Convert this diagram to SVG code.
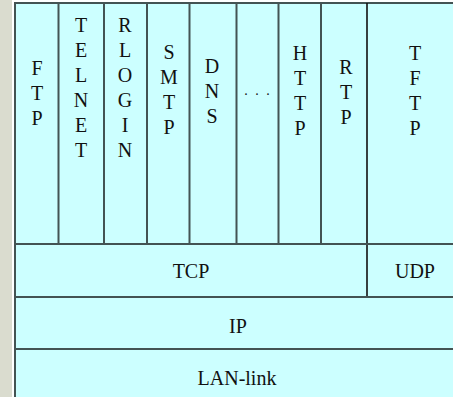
<svg xmlns="http://www.w3.org/2000/svg" width="453" height="397" viewBox="0 0 453 397">
<style>
.bg{fill:#ccffff}
.ln{stroke:#435353;stroke-width:2;fill:none}
.dk{stroke:#111;stroke-width:1.6;fill:none}
text{font-family:"Liberation Serif","Times New Roman",serif;font-size:20px;fill:#111;text-anchor:middle}
</style>
<rect x="0" y="0" width="453" height="397" fill="#dadccf"/>
<rect x="12" y="0" width="441" height="397" fill="#ffffff"/>
<rect x="14" y="2" width="439" height="395" class="bg"/>
<g id="connectors">
<line class="ln" x1="15" y1="2" x2="15" y2="397"/>
<line class="ln" x1="14" y1="3" x2="453" y2="3"/>
<line class="ln" x1="58.5" y1="3" x2="58.5" y2="244"/>
<line class="ln" x1="104" y1="3" x2="104" y2="244"/>
<line class="ln" x1="147" y1="3" x2="147" y2="244"/>
<line class="ln" x1="189.5" y1="3" x2="189.5" y2="244"/>
<line class="ln" x1="236.5" y1="3" x2="236.5" y2="244"/>
<line class="ln" x1="278.5" y1="3" x2="278.5" y2="244"/>
<line class="ln" x1="321" y1="3" x2="321" y2="244"/>
<line class="dk" x1="367" y1="3" x2="367" y2="297"/>
<line class="ln" x1="15" y1="244" x2="453" y2="244"/>
<line class="ln" x1="15" y1="297" x2="453" y2="297"/>
<line class="ln" x1="15" y1="349" x2="453" y2="349"/>
</g>
<g id="ftp"><text x="37" y="75">F</text><text x="37" y="100">T</text><text x="37" y="125">P</text></g>
<g id="telnet"><text x="81" y="32">T</text><text x="81" y="57">E</text><text x="81" y="82">L</text><text x="81" y="107">N</text><text x="81" y="132">E</text><text x="81" y="157">T</text></g>
<g id="rlogin"><text x="125" y="32">R</text><text x="125" y="57">L</text><text x="125" y="82">O</text><text x="125" y="107">G</text><text x="125" y="132">I</text><text x="125" y="157">N</text></g>
<g id="smtp"><text x="169" y="59">S</text><text x="169" y="84">M</text><text x="169" y="109">T</text><text x="169" y="134">P</text></g>
<g id="dns"><text x="212" y="73">D</text><text x="212" y="98">N</text><text x="212" y="123">S</text></g>
<g id="more"><text x="258" y="95" style="font-size:14px;letter-spacing:2px">. . .</text></g>
<g id="http"><text x="300" y="60">H</text><text x="300" y="85">T</text><text x="300" y="110">T</text><text x="300" y="135">P</text></g>
<g id="rtp"><text x="346" y="74">R</text><text x="346" y="99">T</text><text x="346" y="124">P</text></g>
<g id="tftp"><text x="415" y="60">T</text><text x="415" y="85">F</text><text x="415" y="110">T</text><text x="415" y="135">P</text></g>
<g id="tcp"><text x="191" y="278">TCP</text></g>
<g id="udp"><text x="415" y="278">UDP</text></g>
<g id="ip"><text x="238" y="333">IP</text></g>
<g id="lan"><text x="237" y="385">LAN-link</text></g>
</svg>
